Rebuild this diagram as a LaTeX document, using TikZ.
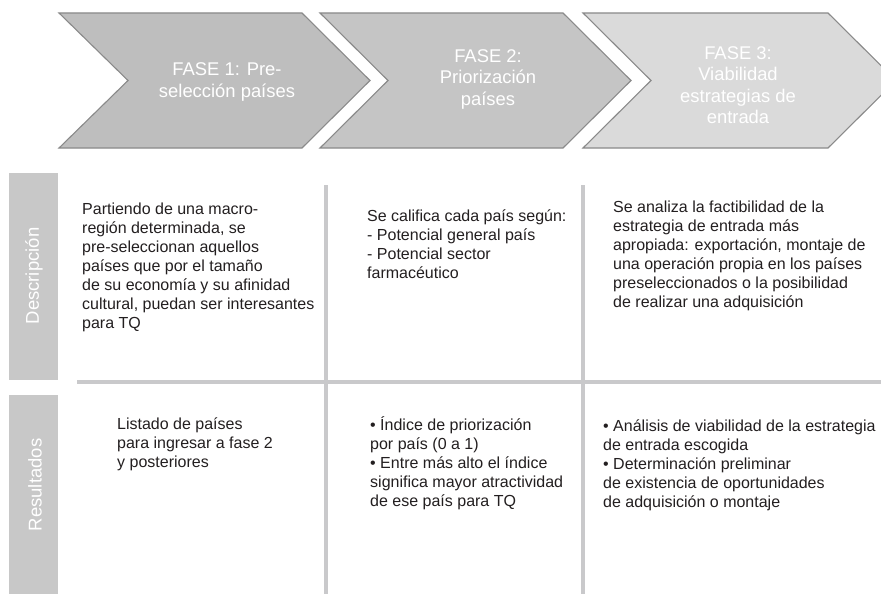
\documentclass[tikz,border=0pt]{standalone}
\usepackage{fontspec}
\setmainfont{Liberation Sans}
\definecolor{chevA}{HTML}{BEBEBE}
\definecolor{chevB}{HTML}{C5C5C5}
\definecolor{chevC}{HTML}{DADADA}
\definecolor{chevline}{HTML}{8A8A8A}
\definecolor{bargrey}{HTML}{C8C8C8}
\definecolor{gridgrey}{HTML}{C9C9CB}
\definecolor{txt}{HTML}{231F20}
\begin{document}
\begin{tikzpicture}[x=1pt,y=-1pt,
  chevron/.style={draw=chevline, line width=1.1pt, line join=miter},
  phase/.style={text=white, align=center, inner sep=0pt,
    font=\fontsize{18.4}{21.5}\selectfont},
  sidebar/.style={fill=bargrey},
  sidelabel/.style={text=white, rotate=90, inner sep=0pt,
    font=\fontsize{18.5}{22}\selectfont},
  gridline/.style={draw=gridgrey, line width=3.4pt},
  body/.style={text=txt, align=left, anchor=north west, inner sep=0pt,
    font=\fontsize{16}{19}\selectfont}]
\useasboundingbox (0,0) rectangle (881,594);
\fill[white] (0,0) rectangle (881,594);
% chevrons
\draw[chevron, fill=chevA] (59,13) -- (302,13) -- (370,80.5) -- (302,148) -- (59,148) -- (128,80.5) -- cycle;
\draw[chevron, fill=chevB] (320,13) -- (563,13) -- (631,80.5) -- (563,148) -- (320,148) -- (388,80.5) -- cycle;
\draw[chevron, fill=chevC] (583,13) -- (828,13) -- (896,80.5) -- (828,148) -- (583,148) -- (651,80.5) -- cycle;
\node[phase] (f1) at (227,82) {FASE 1: Pre-\\selección países};
\node[phase] (f2) at (488,79) {FASE 2:\\Priorización\\países};
\node[phase] (f3) at (738,85) {FASE 3:\\Viabilidad\\estrategias de\\entrada};
% side bars
\fill[sidebar] (9,173) rectangle (58,380);
\node[sidelabel] (ld) at (34,276) {Descripción};
\fill[sidebar] (9,395) rectangle (58,600);
\node[sidelabel] (lr) at (35,485) {Resultados};
% grid
\draw[gridline] (77,382) -- (881,382);
\draw[gridline] (326,185) -- (326,594);
\draw[gridline] (583,185) -- (583,594);
% description texts
\node[body] (d1) at (82,200.5) {\strut Partiendo de una macro-\\región determinada, se\\pre-seleccionan aquellos\\países que por el tamaño\\de su economía y su afinidad\\cultural, puedan ser interesantes\\para TQ};
\node[body] (d2) at (367,208) {\strut Se califica cada país según:\\- Potencial general país\\- Potencial sector\\farmacéutico};
\node[body] (d3) at (613,199) {\strut Se analiza la factibilidad de la\\estrategia de entrada más\\apropiada: exportación, montaje de\\una operación propia en los países\\preseleccionados o la posibilidad\\de realizar una adquisición};
% result texts
\node[body] (r1) at (117,416) {\strut Listado de países\\para ingresar a fase 2\\y posteriores};
\node[body] (r2) at (370,416) {\strut • Índice de priorización\\por país (0 a 1)\\• Entre más alto el índice\\significa mayor atractividad\\de ese país para TQ};
\node[body] (r3) at (603,418) {\strut • Análisis de viabilidad de la estrategia\\de entrada escogida\\• Determinación preliminar\\de existencia de oportunidades\\de adquisición o montaje};
\end{tikzpicture}
\end{document}
